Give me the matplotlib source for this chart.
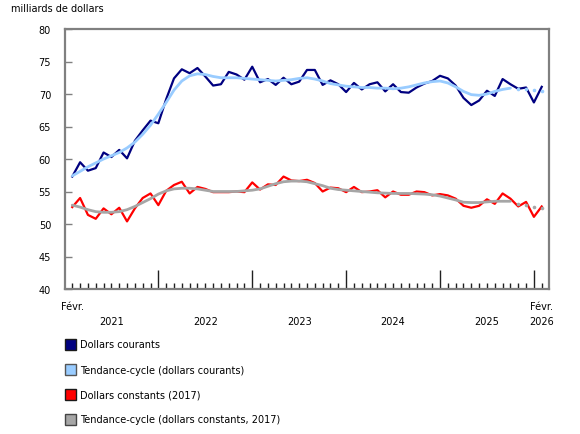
import matplotlib
matplotlib.use("Agg")
import matplotlib.pyplot as plt
from matplotlib.patches import Rectangle
import numpy as np

plt.rcParams['font.family'] = ['DejaVu Sans']

# Monthly data, Feb 2021 .. Feb 2026 (61 months)
courants = [57.3, 59.5, 58.2, 58.6, 61.0, 60.3, 61.4, 60.1, 62.8, 64.4,
            65.9, 65.5, 69.2, 72.4, 73.8, 73.2, 74.0, 72.7, 71.3, 71.5,
            73.4, 73.0, 72.2, 74.2, 71.8, 72.3, 71.4, 72.5, 71.5, 71.9,
            73.7, 73.7, 71.4, 72.1, 71.5, 70.3, 71.7, 70.7, 71.5, 71.8,
            70.4, 71.5, 70.3, 70.2, 71.0, 71.6, 72.0, 72.8, 72.4, 71.3,
            69.4, 68.3, 69.0, 70.5, 69.7, 72.3, 71.5, 70.8, 71.0, 68.7, 71.1]
tendance_courants = [57.4, 58.1, 58.8, 59.4, 60.0, 60.5, 61.0, 61.7, 62.6, 63.8,
                     65.2, 66.9, 68.7, 70.6, 72.0, 72.8, 73.1, 73.0, 72.7, 72.5,
                     72.5, 72.5, 72.4, 72.3, 72.2, 72.1, 72.0, 72.1, 72.2, 72.4,
                     72.5, 72.3, 72.0, 71.6, 71.4, 71.2, 71.1, 71.0, 71.0, 70.9,
                     70.9, 70.8, 70.9, 71.1, 71.4, 71.7, 71.9, 72.0, 71.7, 71.1,
                     70.4, 69.9, 69.8, 70.0, 70.4, 70.7, 70.9, 70.8, 70.7, 70.6, 70.5]
constants = [52.6, 54.0, 51.4, 50.8, 52.4, 51.5, 52.5, 50.4, 52.4, 54.0,
             54.7, 52.9, 55.1, 56.0, 56.5, 54.7, 55.7, 55.4, 54.9, 54.9,
             54.9, 55.0, 54.9, 56.4, 55.3, 56.1, 56.0, 57.3, 56.7, 56.6,
             56.8, 56.3, 55.0, 55.6, 55.5, 54.9, 55.7, 54.9, 55.0, 55.2,
             54.1, 55.0, 54.5, 54.5, 55.0, 54.9, 54.4, 54.6, 54.4, 53.9,
             52.8, 52.5, 52.8, 53.8, 53.1, 54.7, 53.9, 52.7, 53.4, 51.1, 52.7]
tendance_constants = [52.9, 52.6, 52.2, 51.9, 51.8, 51.8, 51.9, 52.2, 52.7, 53.3,
                      53.9, 54.6, 55.1, 55.4, 55.5, 55.5, 55.4, 55.2, 55.0, 55.0,
                      55.0, 55.0, 55.1, 55.2, 55.4, 55.8, 56.2, 56.5, 56.6, 56.6,
                      56.5, 56.2, 55.9, 55.5, 55.3, 55.2, 55.1, 55.0, 54.9, 54.8,
                      54.75, 54.7, 54.7, 54.7, 54.65, 54.6, 54.5, 54.3, 54.0, 53.7,
                      53.35, 53.3, 53.3, 53.4, 53.5, 53.5, 53.5, 53.1, 52.9, 52.6, 52.5]
years = ['2021', '2022', '2023', '2024', '2025', '2026']
mois_label = 'Févr.'
y_ticks = [40, 45, 50, 55, 60, 65, 70, 75, 80]
legend_labels = ['Dollars courants', 'Tendance-cycle (dollars courants)',
                 'Dollars constants (2017)', 'Tendance-cycle (dollars constants, 2017)']
colors = ['#000080', '#99ccff', '#ff0000', '#a6a6a6']
n_prov = 4  # last points provisional (dotted)

FS = 7
W, H = 580, 435
fig = plt.figure(figsize=(W/100, H/100), dpi=100)
ax = fig.add_axes([65/W, 1-290/H, (549-65)/W, (290-30)/H])

x = np.arange(len(courants))
ax.plot(x, courants, color=colors[0], lw=1.6, zorder=3)
ns = len(x) - n_prov
ax.plot(x[:ns], tendance_courants[:ns], color=colors[1], lw=2.0, zorder=4, solid_capstyle='round')
ax.plot(x[ns:], tendance_courants[ns:], color=colors[1], lw=0, marker='o', ms=2.6, mec='none', zorder=4)
ax.plot(x, constants, color=colors[2], lw=1.6, zorder=3)
ax.plot(x[:ns], tendance_constants[:ns], color=colors[3], lw=2.0, zorder=4, solid_capstyle='round')
ax.plot(x[ns:], tendance_constants[ns:], color=colors[3], lw=0, marker='o', ms=2.6, mec='none', zorder=4)

ax.set_xlim(-0.93, len(x) - 1 + 0.93)
ax.set_ylim(40, 80)
ax.set_yticks(y_ticks)
ax.set_yticklabels([str(v) for v in y_ticks], fontsize=FS)
ax.tick_params(axis='y', direction='in', length=5, width=1, color='#808080', pad=10)

# x ticks: minor each month, major at January
jan_idx = [i for i in x if (i + 1) % 12 == 0]
ax.set_xticks(jan_idx)
ax.set_xticklabels([])
ax.set_xticks(x, minor=True)
ax.tick_params(axis='x', which='major', direction='in', length=14, width=1, color='#202020')
ax.tick_params(axis='x', which='minor', direction='in', length=4, width=1, color='#202020')

for s in ax.spines.values():
    s.set_color('#808080')
    s.set_linewidth(1.6)

# x labels
trans = ax.get_xaxis_transform()
ax.text(0, -0.045, mois_label, transform=trans, ha='center', va='top', fontsize=FS)
ax.text(x[-1], -0.045, mois_label, transform=trans, ha='center', va='top', fontsize=FS)
xmin, xmax = ax.get_xlim()
bounds = [xmin] + list(jan_idx)
for k, yr in enumerate(years[:-1]):
    lo = bounds[k]
    hi = bounds[k + 1] if k + 1 < len(bounds) else xmax
    ax.text((lo + hi) / 2, -0.105, yr, transform=trans, ha='center', va='top', fontsize=FS)
ax.text(x[-1], -0.105, years[-1], transform=trans, ha='center', va='top', fontsize=FS)

fig.text(11/W, 1-8.5/H, 'milliards de dollars', ha='left', va='center', fontsize=FS)

# legend
edge = ['#1a1a1a', '#555555', '#1a1a1a', '#444444']
for k, lab in enumerate(legend_labels):
    yc = 345.5 + 25 * k
    fig.patches.append(Rectangle((65/W, 1-(yc+5.5)/H), 11/W, 11/H, transform=fig.transFigure,
                                 facecolor=colors[k], edgecolor=edge[k], lw=1.0))
    fig.text(80/W, 1-yc/H, lab, ha='left', va='center', fontsize=FS)

fig.savefig('out.png', dpi=100)
